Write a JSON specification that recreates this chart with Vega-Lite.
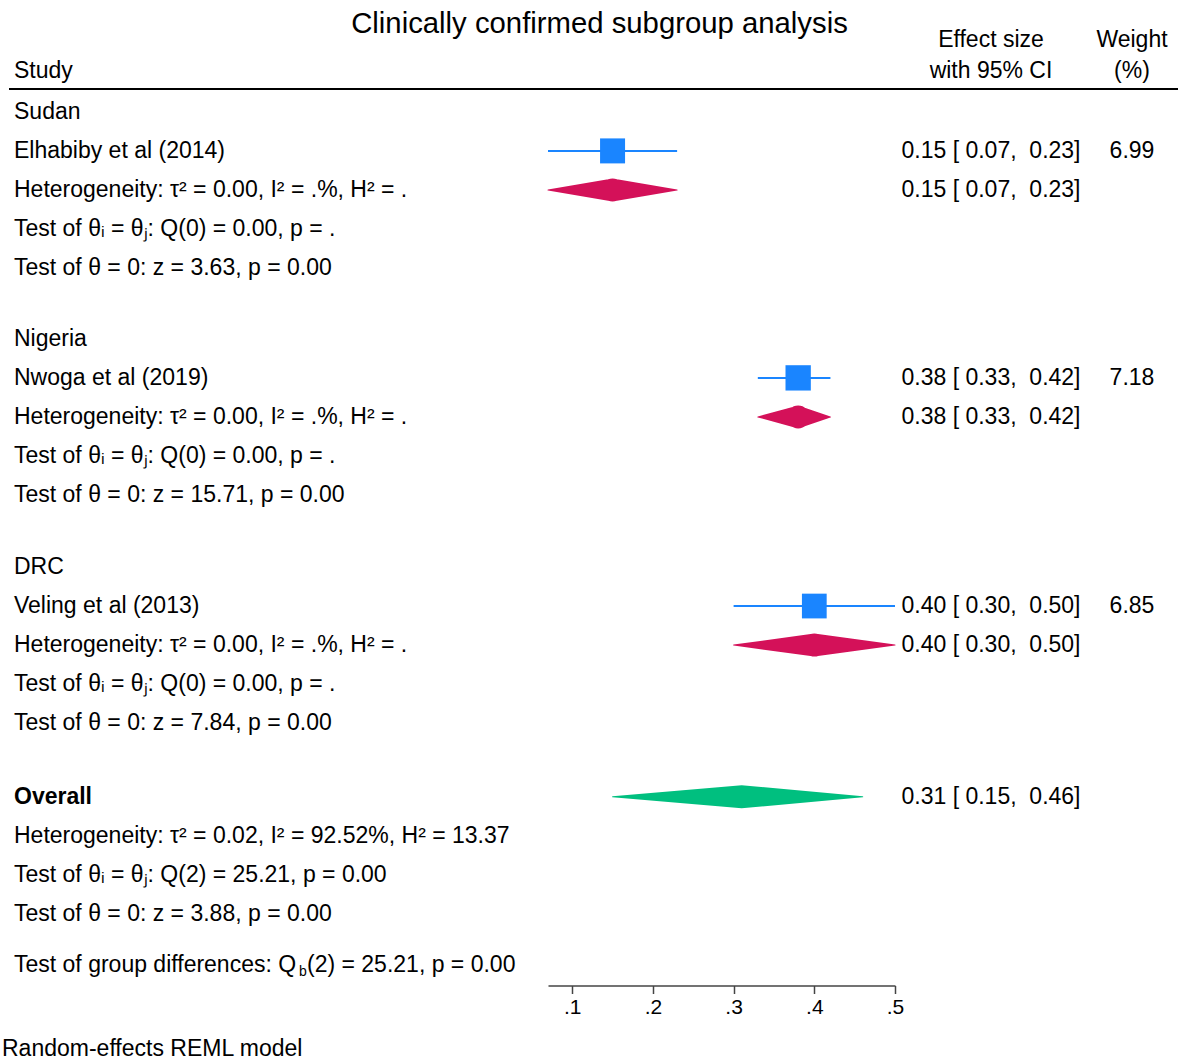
{
  "$schema": "https://vega.github.io/schema/vega-lite/v6.json",
  "background": "white",
  "padding": {"left": 2, "top": 10, "right": 8, "bottom": 0},
  "title": {"text": "Clinically confirmed subgroup analysis", "fontSize": 29.3, "font": "Liberation Sans", "fontWeight": "normal", "color": "black", "anchor": "middle", "offset": -11, "dx": 9},
  "config": {"view": {"stroke": null}, "font": "Liberation Sans", "text": {"fontSize": 23, "color": "black", "font": "Liberation Sans"}},
  "bounds": "flush",
  "spacing": 0,
  "datasets": {
    "studies": [
      {"study": "Elhabiby et al (2014)", "row": 1, "es": 0.15, "lo": 0.07, "hi": 0.23, "weight": 6.99},
      {"study": "Nwoga et al (2019)", "row": 6.82, "es": 0.38, "lo": 0.33, "hi": 0.42, "weight": 7.18},
      {"study": "Veling et al (2013)", "row": 12.67, "es": 0.40, "lo": 0.30, "hi": 0.50, "weight": 6.85}
    ],
    "diamonds": [
      {"grp": "Sudan", "kind": "Subgroup", "row": 2, "es": 0.15, "lo": 0.07, "hi": 0.23},
      {"grp": "Nigeria", "kind": "Subgroup", "row": 7.82, "es": 0.38, "lo": 0.33, "hi": 0.42},
      {"grp": "DRC", "kind": "Subgroup", "row": 13.67, "es": 0.40, "lo": 0.30, "hi": 0.50},
      {"grp": "Overall", "kind": "Overall", "row": 17.56, "es": 0.31, "lo": 0.15, "hi": 0.46}
    ],
    "header": [{"row": -0.59}]
  },
  "hconcat": [
    {
      "width": 539,
      "height": 955.5,
      "data": {"values": [
        {"row": -1.05, "label": "Study", "kind": "n"},
        {"row": 0, "label": "Sudan", "kind": "n"},
        {"row": 1, "label": "Elhabiby et al (2014)", "kind": "n"},
        {"row": 2, "label": "Heterogeneity: τ² = 0.00, I² = .%, H² = .", "kind": "n"},
        {"row": 3, "label": "Test of θᵢ = θⱼ: Q(0) = 0.00, p = .", "kind": "n"},
        {"row": 4, "label": "Test of θ = 0: z = 3.63, p = 0.00", "kind": "n"},
        {"row": 5.82, "label": "Nigeria", "kind": "n"},
        {"row": 6.82, "label": "Nwoga et al (2019)", "kind": "n"},
        {"row": 7.82, "label": "Heterogeneity: τ² = 0.00, I² = .%, H² = .", "kind": "n"},
        {"row": 8.82, "label": "Test of θᵢ = θⱼ: Q(0) = 0.00, p = .", "kind": "n"},
        {"row": 9.82, "label": "Test of θ = 0: z = 15.71, p = 0.00", "kind": "n"},
        {"row": 11.67, "label": "DRC", "kind": "n"},
        {"row": 12.67, "label": "Veling et al (2013)", "kind": "n"},
        {"row": 13.67, "label": "Heterogeneity: τ² = 0.00, I² = .%, H² = .", "kind": "n"},
        {"row": 14.67, "label": "Test of θᵢ = θⱼ: Q(0) = 0.00, p = .", "kind": "n"},
        {"row": 15.67, "label": "Test of θ = 0: z = 7.84, p = 0.00", "kind": "n"},
        {"row": 17.56, "label": "Overall", "kind": "b"},
        {"row": 18.56, "label": "Heterogeneity: τ² = 0.02, I² = 92.52%, H² = 13.37", "kind": "n"},
        {"row": 19.56, "label": "Test of θᵢ = θⱼ: Q(2) = 25.21, p = 0.00", "kind": "n"},
        {"row": 20.56, "label": "Test of θ = 0: z = 3.88, p = 0.00", "kind": "n"},
        {"row": 21.87, "label": "Test of group differences: Q", "kind": "n"},
        {"row": 21.87, "label": "b", "kind": "s"},
        {"row": 21.87, "label": "(2) = 25.21, p = 0.00", "kind": "c"},
        {"row": 24.04, "label": "Random-effects REML model", "kind": "f"}
      ]},
      "layer": [
        {
          "transform": [{"filter": "datum.kind == 'n'"}],
          "mark": {"type": "text", "align": "left", "baseline": "middle", "dx": 5},
          "encoding": {
            "x": {"datum": 0, "type": "quantitative", "scale": {"domain": [0, 1]}, "axis": null},
            "y": {"field": "row", "type": "quantitative", "scale": {"domain": [-2.1, 22.4], "reverse": true, "nice": false, "zero": false}, "axis": null},
            "text": {"field": "label"}
          }
        },
        {
          "transform": [{"filter": "datum.kind == 'b'"}],
          "mark": {"type": "text", "align": "left", "baseline": "middle", "dx": 5, "fontWeight": "bold"},
          "encoding": {
            "x": {"datum": 0, "type": "quantitative", "scale": {"domain": [0, 1]}, "axis": null},
            "y": {"field": "row", "type": "quantitative", "axis": null},
            "text": {"field": "label"}
          }
        },
        {
          "transform": [{"filter": "datum.kind == 's'"}],
          "mark": {"type": "text", "align": "left", "baseline": "middle", "dx": 290, "dy": 7, "fontSize": 14},
          "encoding": {
            "x": {"datum": 0, "type": "quantitative", "scale": {"domain": [0, 1]}, "axis": null},
            "y": {"field": "row", "type": "quantitative", "axis": null},
            "text": {"field": "label"}
          }
        },
        {
          "transform": [{"filter": "datum.kind == 'c'"}],
          "mark": {"type": "text", "align": "left", "baseline": "middle", "dx": 298},
          "encoding": {
            "x": {"datum": 0, "type": "quantitative", "scale": {"domain": [0, 1]}, "axis": null},
            "y": {"field": "row", "type": "quantitative", "axis": null},
            "text": {"field": "label"}
          }
        },
        {
          "transform": [{"filter": "datum.kind == 'f'"}],
          "mark": {"type": "text", "align": "left", "baseline": "middle", "dx": -7},
          "encoding": {
            "x": {"datum": 0, "type": "quantitative", "scale": {"domain": [0, 1]}, "axis": null},
            "y": {"field": "row", "type": "quantitative", "axis": null},
            "text": {"field": "label"}
          }
        },
        {
          "data": {"name": "header"},
          "mark": {"type": "rule", "color": "black", "strokeWidth": 2},
          "encoding": {"y": {"field": "row", "type": "quantitative", "axis": null}}
        }
      ]
    },
    {
      "width": 347,
      "height": 955.5,
      "resolve": {"scale": {"size": "independent"}},
      "layer": [
        {
          "data": {"name": "header"},
          "mark": {"type": "rule", "color": "black", "strokeWidth": 2},
          "encoding": {"y": {"field": "row", "type": "quantitative", "scale": {"domain": [-2.1, 22.4], "reverse": true, "nice": false, "zero": false}, "axis": null}}
        },
        {
          "data": {"name": "studies"},
          "mark": {"type": "rule", "color": "#1a85ff", "strokeWidth": 2},
          "encoding": {
            "x": {"field": "lo", "type": "quantitative", "scale": {"domain": [0.07, 0.5], "nice": false, "zero": false},
              "axis": {"values": [0.1, 0.2, 0.3, 0.4, 0.5], "title": null, "grid": false, "labelExpr": "replace(format(datum.value, '.1f'), '0.', '.')", "labelFontSize": 21, "labelFont": "Liberation Sans", "labelColor": "black", "labelFlush": false, "labelOverlap": false, "labelPadding": 3, "domainColor": "#444444", "domainWidth": 1.5, "tickColor": "#444444", "tickWidth": 1.5, "tickSize": 8}},
            "x2": {"field": "hi"},
            "y": {"field": "row", "type": "quantitative", "axis": null}
          }
        },
        {
          "data": {"name": "studies"},
          "mark": {"type": "point", "shape": "square", "filled": true, "color": "#1a85ff", "opacity": 1},
          "encoding": {
            "x": {"field": "es", "type": "quantitative"},
            "y": {"field": "row", "type": "quantitative", "axis": null},
            "size": {"field": "weight", "type": "quantitative", "scale": {"domain": [0, 10], "range": [0, 894]}, "legend": null}
          }
        },
        {
          "data": {"name": "diamonds"},
          "transform": [{"fold": ["lo", "es", "hi"], "as": ["pt", "xv"]}],
          "mark": {"type": "trail"},
          "encoding": {
            "x": {"field": "xv", "type": "quantitative"},
            "y": {"field": "row", "type": "quantitative", "axis": null},
            "size": {"field": "pt", "type": "ordinal", "scale": {"type": "ordinal", "domain": ["lo", "es", "hi"], "range": [0, 23, 0]}, "legend": null},
            "color": {"field": "kind", "type": "nominal", "scale": {"domain": ["Subgroup", "Overall"], "range": ["#d41159", "#00bf7f"]}, "legend": null},
            "detail": {"field": "grp", "type": "nominal"}
          }
        }
      ]
    },
    {
      "width": 283,
      "height": 955.5,
      "layer": [
        {
          "data": {"name": "header"},
          "mark": {"type": "rule", "color": "black", "strokeWidth": 2},
          "encoding": {"y": {"field": "row", "type": "quantitative", "scale": {"domain": [-2.1, 22.4], "reverse": true, "nice": false, "zero": false}, "axis": null}}
        },
        {
          "data": {"values": [
            {"row": -1.85, "col": "Effect size", "label": "Effect size"},
            {"row": -1.05, "col": "Effect size", "label": "with 95% CI"},
            {"row": -1.85, "col": "Weight", "label": "Weight"},
            {"row": -1.05, "col": "Weight", "label": "(%)"},
            {"row": 1, "col": "Effect size", "label": "0.15 [ 0.07, \u00a00.23]"},
            {"row": 1, "col": "Weight", "label": "6.99"},
            {"row": 2, "col": "Effect size", "label": "0.15 [ 0.07, \u00a00.23]"},
            {"row": 6.82, "col": "Effect size", "label": "0.38 [ 0.33, \u00a00.42]"},
            {"row": 6.82, "col": "Weight", "label": "7.18"},
            {"row": 7.82, "col": "Effect size", "label": "0.38 [ 0.33, \u00a00.42]"},
            {"row": 12.67, "col": "Effect size", "label": "0.40 [ 0.30, \u00a00.50]"},
            {"row": 12.67, "col": "Weight", "label": "6.85"},
            {"row": 13.67, "col": "Effect size", "label": "0.40 [ 0.30, \u00a00.50]"},
            {"row": 17.56, "col": "Effect size", "label": "0.31 [ 0.15, \u00a00.46]"}
          ]},
          "mark": {"type": "text", "align": "center", "baseline": "middle"},
          "encoding": {
            "x": {"field": "col", "type": "nominal", "scale": {"type": "point", "domain": ["Effect size", "Weight"], "padding": 0.5035, "align": 0.676}, "axis": null},
            "y": {"field": "row", "type": "quantitative", "axis": null},
            "text": {"field": "label"}
          }
        }
      ]
    }
  ]
}
